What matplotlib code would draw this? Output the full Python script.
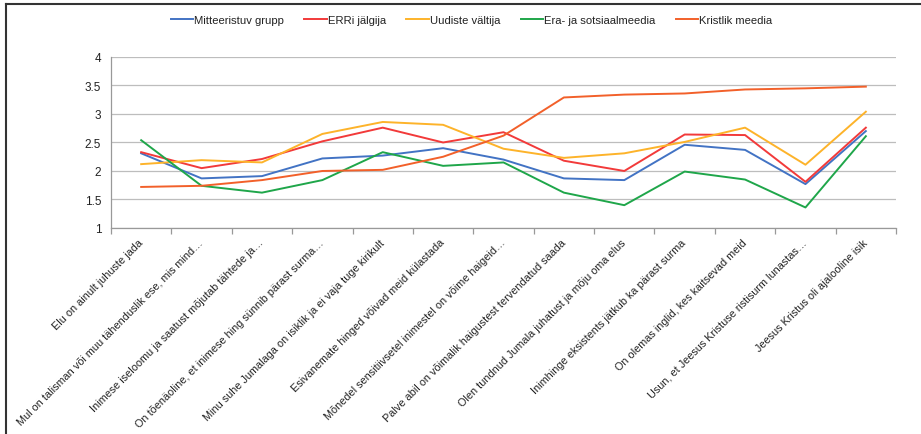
import matplotlib
matplotlib.use('Agg')
import matplotlib.pyplot as plt
from matplotlib.lines import Line2D
import numpy as np

plt.rcParams['font.family'] = ['Liberation Sans', 'DejaVu Sans']

# väidete lühendatud sildid
labels = [
    'Elu on ainult juhuste jada',
    'Mul on talisman või muu tähenduslik ese, mis mind…',
    'Inimese iseloomu ja saatust mõjutab tähtede ja…',
    'On tõenäoline, et inimese hing sünnib pärast surma…',
    'Minu suhe Jumalaga on isiklik ja ei vaja tuge kirikult',
    'Esivanemate hinged võivad meid külastada',
    'Mõnedel sensitiivsetel inimestel on võime haigeid…',
    'Palve abil on võimalik haigustest tervendatud saada',
    'Olen tundnud Jumala juhatust ja mõju oma elus',
    'Inimhinge eksistents jätkub ka pärast surma',
    'On olemas inglid, kes kaitsevad meid',
    'Usun, et Jeesus Kristuse ristisurm lunastas…',
    'Jeesus Kristus oli ajalooline isik',
]

mitteeristuv = [2.31, 1.87, 1.91, 2.22, 2.27, 2.40, 2.20, 1.87, 1.84, 2.46, 2.37, 1.77, 2.70]
erri = [2.33, 2.05, 2.21, 2.52, 2.76, 2.50, 2.68, 2.18, 2.00, 2.64, 2.63, 1.81, 2.76]
uudiste = [2.12, 2.19, 2.15, 2.65, 2.86, 2.81, 2.39, 2.23, 2.31, 2.51, 2.76, 2.11, 3.04]
era_sots = [2.54, 1.74, 1.62, 1.84, 2.33, 2.09, 2.15, 1.62, 1.40, 1.99, 1.85, 1.36, 2.61]
kristlik = [1.72, 1.74, 1.84, 2.00, 2.02, 2.25, 2.62, 3.29, 3.34, 3.36, 3.43, 3.45, 3.48]

series = [
    ('Mitteeristuv grupp', mitteeristuv, '#4273c4'),
    ('ERRi jälgija', erri, '#f23a3a'),
    ('Uudiste vältija', uudiste, '#fdb32a'),
    ('Era- ja sotsiaalmeedia', era_sots, '#1fa64a'),
    ('Kristlik meedia', kristlik, '#f2602a'),
]

fig = plt.figure(figsize=(9.21, 4.35), dpi=100)
ax = fig.add_axes([0.1205, 0.4736, 0.8524, 0.3931])

x = np.arange(len(labels))
for name, vals, col in series:
    ax.plot(x, vals, color=col, lw=1.4, label=name)

ax.set_xlim(-0.5, len(labels) - 0.5)
ax.set_ylim(1, 4)
ax.set_yticks([1, 1.5, 2, 2.5, 3, 3.5, 4])
ax.set_yticklabels(['1', '1.5', '2', '2.5', '3', '3.5', '4'])
ax.grid(axis='y', color='#bdbdbd', lw=0.9)
ax.set_axisbelow(True)

ax.set_xticks(x)
ax.set_xticklabels(labels, rotation=45, ha='right', va='center',
                   rotation_mode='anchor', fontsize=7.8)
ax.set_xticks(np.arange(-0.5, len(labels)), minor=True)
ax.tick_params(axis='x', which='major', length=0, pad=9, colors='#222222')
ax.tick_params(axis='x', which='minor', length=4, color='#999999', width=0.9)
ax.tick_params(axis='y', length=0, pad=7, labelsize=8.5, colors='#222222')

for s in ['top', 'right']:
    ax.spines[s].set_visible(False)
for s in ['left', 'bottom']:
    ax.spines[s].set_color('#999999')
    ax.spines[s].set_linewidth(0.9)

fig.legend(loc='center', bbox_to_anchor=(0.512, 0.952), ncol=5, frameon=False,
           fontsize=8.1, handlelength=2.0, handletextpad=0.1, columnspacing=1.8,
           labelcolor='#222222')

# ümbritseva kasti ülemine ja vasak serv
fig.add_artist(Line2D([6 / 921, 1], [1 - 5 / 435, 1 - 5 / 435], color='#333333', lw=1.5))
fig.add_artist(Line2D([6 / 921, 6 / 921], [0, 1 - 5 / 435], color='#333333', lw=1.5))

fig.savefig('out.png', dpi=100)
